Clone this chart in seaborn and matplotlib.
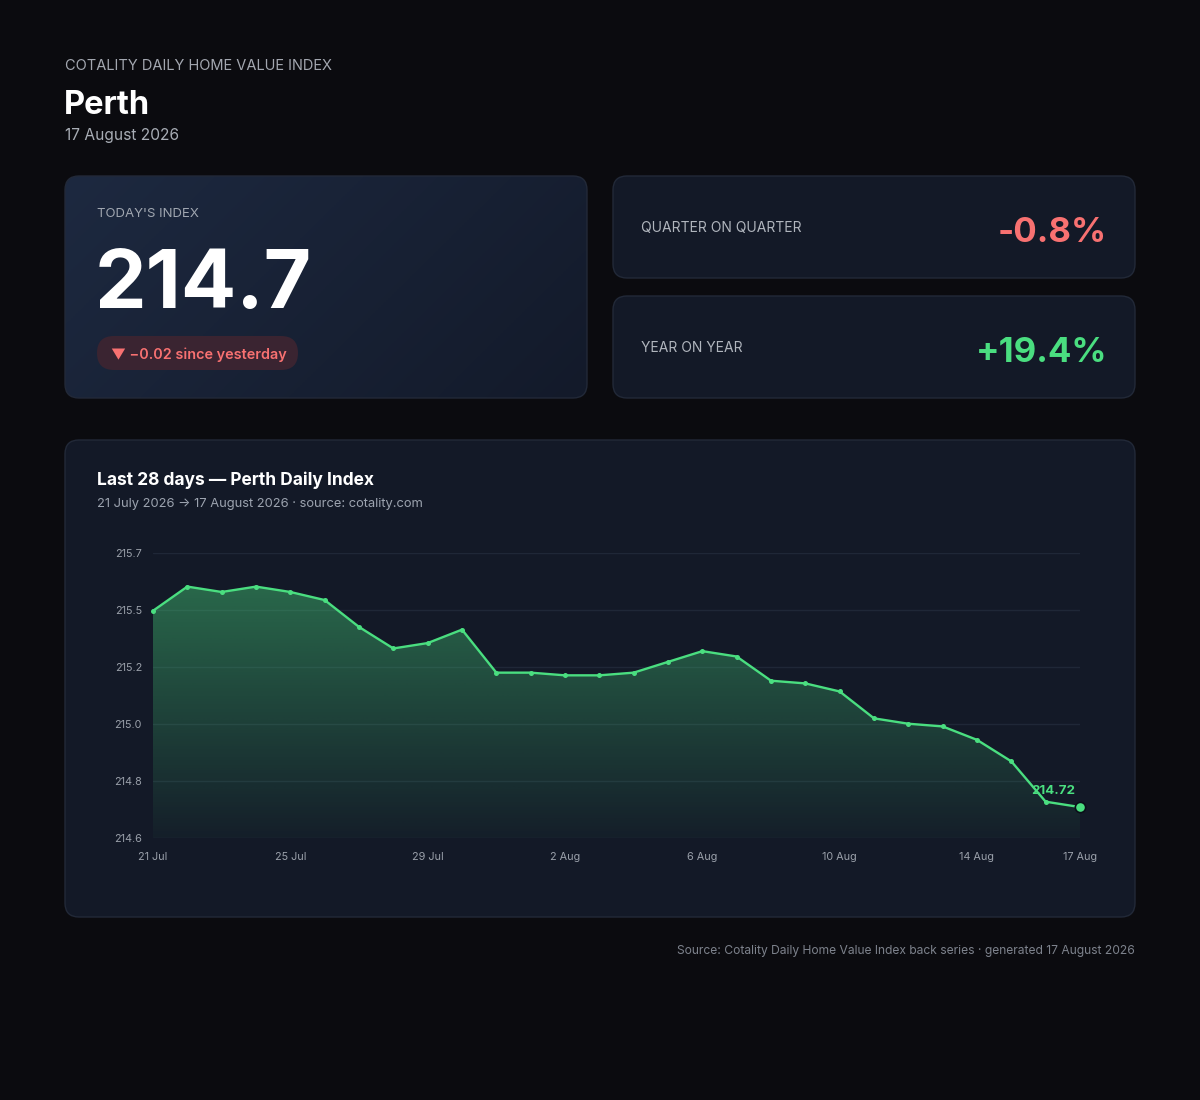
import numpy as np
import pandas as pd
import seaborn as sns
import matplotlib.pyplot as plt
from matplotlib.patches import FancyBboxPatch
from matplotlib.colors import to_rgb

# data
dates = pd.date_range('2026-07-21', '2026-08-17', freq='D')
index_values = [215.45, 215.54, 215.52, 215.54, 215.52, 215.49, 215.39, 215.31,
                215.33, 215.38, 215.22, 215.22, 215.21, 215.21, 215.22, 215.26,
                215.30, 215.28, 215.19, 215.18, 215.15, 215.05, 215.03, 215.02,
                214.97, 214.89, 214.74, 214.72]
tick_days = [0, 4, 8, 12, 16, 20, 24, 27]
tick_labels = ['21 Jul', '25 Jul', '29 Jul', '2 Aug', '6 Aug', '10 Aug', '14 Aug', '17 Aug']
y_range = (214.605, 215.665)

headline = '214.7'
day_change = '\u25bc \u22120.02 since yesterday'
qoq = '-0.8%'
yoy = '+19.4%'

BG = '#0b0b0f'
CARD = '#131927'
EDGE = '#222938'
GREEN = '#4ade80'
RED = '#f87171'
MUTED = '#9ca3af'

sns.set_theme(style='dark')
plt.rcParams['font.family'] = ['Inter', 'DejaVu Sans']

fig = plt.figure(figsize=(12, 11), dpi=100, facecolor=BG)

# background layer in pixel coordinates (y down)
bg = fig.add_axes([0, 0, 1, 1], zorder=0)
bg.set_xlim(0, 1200)
bg.set_ylim(1100, 0)
bg.axis('off')
bg.set_facecolor(BG)


def card(x0, y0, x1, y1, color=CARD, r=14):
    box = FancyBboxPatch((x0, y0), x1 - x0, y1 - y0,
                         boxstyle=f'round,pad=0,rounding_size={r}',
                         facecolor=color, edgecolor=EDGE, linewidth=1)
    bg.add_patch(box)
    return box


# header
bg.text(65, 70, 'COTALITY DAILY HOME VALUE INDEX', color='#a3a7b0', fontsize=10.5,
        va='baseline', ha='left')
bg.text(64, 114, 'Perth', color='white', fontsize=23.5, fontweight='bold', va='baseline')
bg.text(65, 140, '17 August 2026', color='#a8adb5', fontsize=11.2, va='baseline')

# today's index card with a diagonal gradient
box = card(65, 176, 587, 398, color='none')
c1 = np.array(to_rgb('#1d2940'))
c2 = np.array(to_rgb('#131a2a'))
gx, gy = np.meshgrid(np.linspace(0, 1, 200), np.linspace(0, 1, 100))
t = (gx * 0.7 + gy * 0.3)[..., None]
grad = c1 * (1 - t) + c2 * t
im = bg.imshow(grad, extent=(65, 587, 398, 176), aspect='auto', zorder=1)
im.set_clip_path(box)
box.set_zorder(2)

bg.text(97, 217, "TODAY'S INDEX", color='#a0a6b0', fontsize=9.5, va='baseline', zorder=3)
bg.text(95, 308, headline, color='white', fontsize=59, fontweight='bold', va='baseline', zorder=3)
pill = FancyBboxPatch((97, 336), 201, 34, boxstyle='round,pad=0,rounding_size=17',
                      facecolor='#3a2431', edgecolor='none', zorder=3)
bg.add_patch(pill)
bg.text(111, 359, day_change, color=RED, fontsize=10.4, fontweight='semibold',
        va='baseline', zorder=4, family=['Inter', 'DejaVu Sans'])

# quarter / year cards
card(613, 176, 1135, 278)
bg.text(641, 232, 'QUARTER ON QUARTER', color='#b0b5bd', fontsize=10, va='baseline')
bg.text(1107, 242, qoq, color=RED, fontsize=25, fontweight='bold', va='baseline', ha='right')
card(613, 296, 1135, 398)
bg.text(641, 352, 'YEAR ON YEAR', color='#b0b5bd', fontsize=10, va='baseline')
bg.text(1107, 362, yoy, color=GREEN, fontsize=25, fontweight='bold', va='baseline', ha='right')

# chart card
card(65, 440, 1135, 917)
bg.text(97, 485, 'Last 28 days \u2014 Perth Daily Index', color='white', fontsize=12.5,
        fontweight='bold', va='baseline')
bg.text(97, 506.5, '21 July 2026 \u2192 17 August 2026 \u00b7 source: cotality.com',
        color=MUTED, fontsize=9.3, va='baseline')
bg.text(1135, 954, 'Source: Cotality Daily Home Value Index back series \u00b7 generated 17 August 2026',
        color='#7d828c', fontsize=8.7, va='baseline', ha='right')

# line chart
df = pd.DataFrame({'day': np.arange(len(dates)), 'date': dates, 'value': index_values})
ax = fig.add_axes([153 / 1200, (1100 - 838) / 1100, (1080 - 153) / 1200, (838 - 553) / 1100], zorder=2)
ax.set_facecolor('none')

poly = ax.fill_between(df['day'], df['value'], y_range[0], color='none', linewidth=0)
g = np.array(to_rgb(GREEN))
alpha = np.linspace(0.45, 0.03, 256)
fill_img = np.zeros((256, 2, 4))
fill_img[..., :3] = g
fill_img[..., 3] = alpha[:, None]
gim = ax.imshow(fill_img, extent=(0, 27, y_range[0], y_range[1]), aspect='auto', zorder=1)
gim.set_clip_path(poly.get_paths()[0], transform=ax.transData)

sns.lineplot(data=df, x='day', y='value', ax=ax, color=GREEN, linewidth=1.7,
             marker='o', markersize=3.6, markeredgewidth=0, zorder=3, clip_on=False)
sns.scatterplot(data=df.tail(1), x='day', y='value', ax=ax, color=GREEN, s=55,
                edgecolor='#0b0f19', linewidth=1.2, zorder=4, clip_on=False)
last = df.iloc[-1]
ax.annotate(f"{last['value']:.2f}", (last['day'], last['value']), xytext=(-27, 13),
            textcoords='offset pixels', ha='center', va='baseline', color=GREEN,
            fontsize=9.6, fontweight='bold', zorder=5)

ax.set_xlim(0, 27)
ax.set_ylim(*y_range)
yt = np.linspace(y_range[0], y_range[1], 6)
ax.set_yticks(yt)
ax.set_yticklabels([f'{v:.1f}' for v in yt])
ax.set_xticks(tick_days)
ax.set_xticklabels(tick_labels)
ax.set_xlabel('')
ax.set_ylabel('')
ax.grid(axis='y', color='#1f2737', linewidth=1)
ax.grid(axis='x', visible=False)
for s in ax.spines.values():
    s.set_visible(False)
ax.tick_params(axis='both', colors='#9aa0aa', labelsize=7.8, length=0)
ax.tick_params(axis='x', pad=10)
ax.tick_params(axis='y', pad=8)

fig.savefig('out.png', dpi=100, facecolor=BG)
